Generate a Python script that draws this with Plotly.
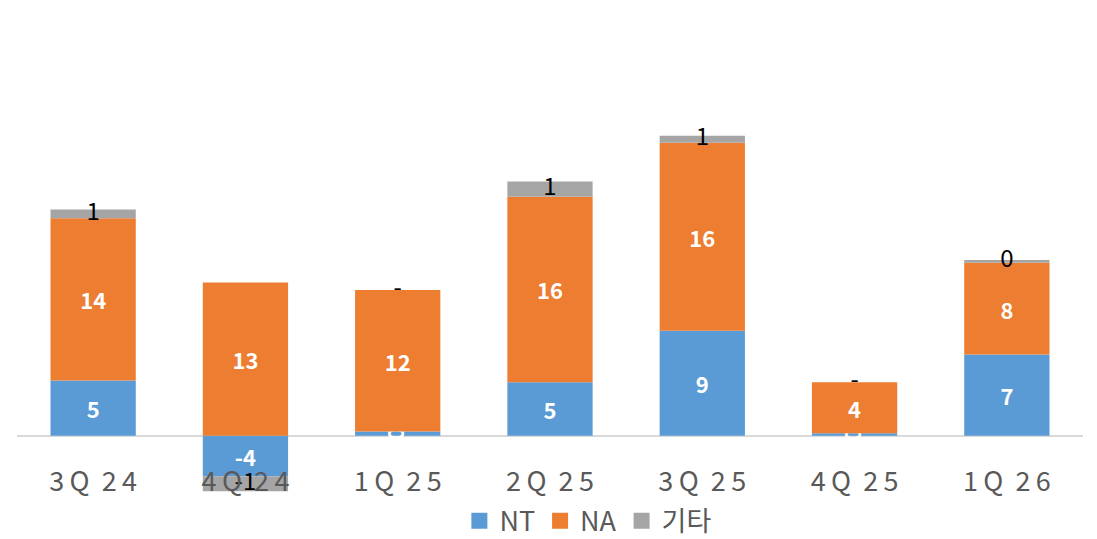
import plotly.graph_objects as go

# quarterly contribution by segment
quarters = ["3\u2009Q  2\u20094", "4\u2009Q  2\u20094", "1\u2009Q  2\u20095", "2\u2009Q  2\u20095",
            "3\u2009Q  2\u20095", "4\u2009Q  2\u20095", "1\u2009Q  2\u20096"]
nt = [4.75, -3.5, 0.35, 4.6, 9.05, 0.2, 7.0]
na = [14.0, 13.2, 12.2, 16.0, 16.2, 4.4, 7.9]
etc = [0.75, -1.3, 0.0, 1.3, 0.6, 0.0, 0.25]

nt_labels = ["5", "-4", "0", "5", "9", "0", "7"]
na_labels = ["14", "13", "12", "16", "16", "4", "8"]
etc_labels = ["1", "-1", "-", "1", "1", "-", "0"]

FONT = "Noto Sans CJK KR"
C_NT, C_NA, C_ETC = "#5B9BD5", "#ED7D31", "#A5A5A5"

# centre of the grey segment in a relative stack
etc_mid = []
for a, b, c in zip(nt, na, etc):
    if c >= 0:
        base = max(a, 0) + max(b, 0)
    else:
        base = min(a, 0) + min(b, 0)
    etc_mid.append(base + c / 2)

fig = go.Figure()
for name, vals, labels, color in [
    ("NT", nt, nt_labels, C_NT),
    ("NA", na, na_labels, C_NA),
]:
    fig.add_trace(
        go.Bar(
            x=quarters,
            y=vals,
            name=name,
            marker_color=color,
            marker_line_width=0,
            text=labels,
            textposition="inside",
            insidetextanchor="middle",
            constraintext="none",
            textfont=dict(family=FONT, size=22, color="white", weight="bold"),
            cliponaxis=False,
            showlegend=False,
        )
    )
fig.add_trace(
    go.Bar(x=quarters, y=etc, name="기타", marker_color=C_ETC,
           marker_line_width=0, showlegend=False)
)
fig.add_trace(
    go.Scatter(
        x=quarters,
        y=etc_mid,
        mode="text",
        text=etc_labels,
        textposition="middle center",
        textfont=dict(family=FONT, size=24, color="black"),
        showlegend=False,
        hoverinfo="skip",
        cliponaxis=False,
    )
)

# legend entries with larger square swatches
for name, color in [("NT", C_NT), ("NA", C_NA), ("기타", C_ETC)]:
    fig.add_trace(
        go.Scatter(
            x=[None], y=[None], mode="markers", name=name,
            marker=dict(symbol="square", size=18, color=color),
        )
    )

fig.update_layout(
    width=1097,
    height=539,
    barmode="relative",
    bargap=0.44,
    plot_bgcolor="white",
    paper_bgcolor="white",
    margin=dict(l=9, r=22, t=10, b=51),
    font=dict(family=FONT, color="#595959"),
    legend=dict(
        orientation="h",
        x=0.536,
        xanchor="center",
        yref="container",
        y=0.048,
        yanchor="middle",
        font=dict(size=27, color="#595959"),
        itemwidth=30,
        traceorder="normal",
    ),
    xaxis=dict(
        showline=False,
        showgrid=False,
        ticks="",
        tickfont=dict(size=27, color="#595959"),
        ticklabelstandoff=-33,
        automargin=False,
    ),
    yaxis=dict(
        range=[-5.2, 36.0],
        showgrid=False,
        showticklabels=False,
        zeroline=True,
        zerolinecolor="#D9D9D9",
        zerolinewidth=2,
        automargin=False,
    ),
)

fig.write_html("out.html")
